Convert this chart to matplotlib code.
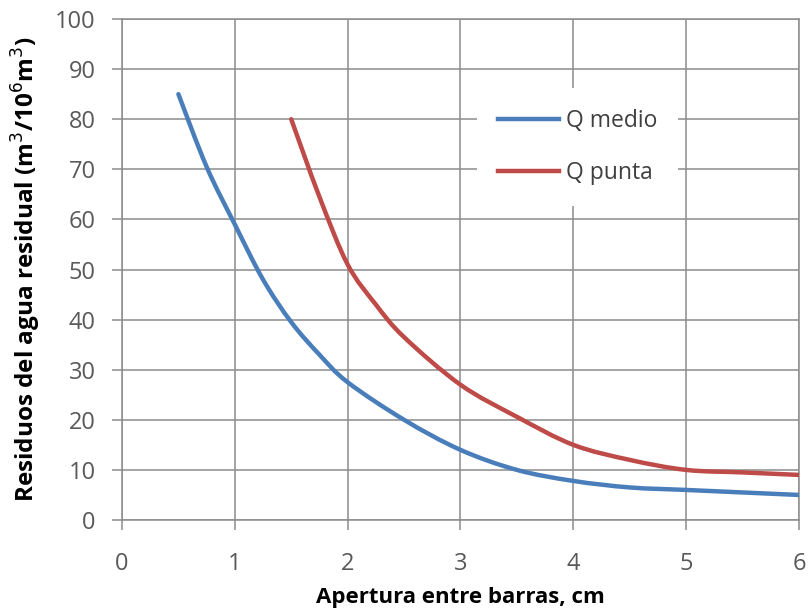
import numpy as np
import matplotlib
matplotlib.use("Agg")
import matplotlib.pyplot as plt
from matplotlib.path import Path
from matplotlib.patches import PathPatch
from matplotlib.lines import Line2D

# Data
x_medio = [0.5, 0.75, 1.0, 1.25, 1.5, 1.75, 2.0, 2.5, 3.0, 3.5, 4.0, 4.5, 5.0, 5.5, 6.0]
q_medio = [85, 70.5, 59, 48, 39.5, 33, 27.5, 20, 14, 10, 7.8, 6.5, 6, 5.5, 5]
x_punta = [1.5, 1.75, 2.0, 2.25, 2.5, 3.0, 3.5, 4.0, 4.5, 5.0, 5.5, 6.0]
q_punta = [80, 64.5, 51, 43, 36.5, 27, 20.6, 15, 12, 10, 9.5, 9]
x_ticks = [0, 1, 2, 3, 4, 5, 6]
y_ticks = [0, 10, 20, 30, 40, 50, 60, 70, 80, 90, 100]

BLUE = "#4A7EBB"
RED = "#BE4B48"
GRID = "#8c8c8c"
TXT = "#595959"

plt.rcParams['font.family'] = ['Open Sans', 'DejaVu Sans']

fig = plt.figure(figsize=(8.1, 6.13), dpi=100)
ax = fig.add_axes([0.1506, 0.1517, 0.8358, 0.8173])


def smooth_path(xs, ys):
    # Catmull-Rom style bezier (like spreadsheet smoothed lines)
    xs = np.asarray(xs, float); ys = np.asarray(ys, float)
    n = len(xs)
    verts = [(xs[0], ys[0])]
    codes = [Path.MOVETO]
    t = 1 / 6
    for i in range(n - 1):
        p0 = (xs[max(i - 1, 0)], ys[max(i - 1, 0)])
        p1 = (xs[i], ys[i])
        p2 = (xs[i + 1], ys[i + 1])
        p3 = (xs[min(i + 2, n - 1)], ys[min(i + 2, n - 1)])
        c1 = (p1[0] + (p2[0] - p0[0]) * t, p1[1] + (p2[1] - p0[1]) * t)
        c2 = (p2[0] - (p3[0] - p1[0]) * t, p2[1] - (p3[1] - p1[1]) * t)
        verts += [c1, c2, p2]
        codes += [Path.CURVE4] * 3
    return Path(verts, codes)


for xs, ys, c in [(x_medio, q_medio, BLUE), (x_punta, q_punta, RED)]:
    patch = PathPatch(smooth_path(xs, ys), facecolor='none', edgecolor=c,
                      linewidth=3.2, capstyle='round', zorder=3)
    ax.add_patch(patch)

ax.set_xlim(0, 6)
ax.set_ylim(0, 100)
ax.set_xticks(x_ticks)
ax.set_yticks(y_ticks)
ax.grid(True, color=GRID, linewidth=1.1)
ax.set_axisbelow(True)
for s in ax.spines.values():
    s.set_color(GRID)
    s.set_linewidth(1.1)
ax.tick_params(axis='both', direction='out', length=7, width=1.1, color=GRID,
               labelsize=17, labelcolor=TXT)
ax.tick_params(axis='y', pad=12)
ax.tick_params(axis='x', pad=16)

ax.set_xlabel("Apertura entre barras, cm", fontsize=16, fontweight='bold',
              color='black', labelpad=8)
ax.set_ylabel("Residuos del agua residual (m$^3$/10$^6$m$^3$)", fontsize=17.5,
              fontweight='bold', color='black')
ax.yaxis.set_label_coords(-0.116, 0.5)

handles = [Line2D([], [], color=BLUE, linewidth=3.2),
           Line2D([], [], color=RED, linewidth=3.2)]
leg = ax.legend(handles, ["Q medio", "Q punta"], loc='upper left',
                bbox_to_anchor=(0.525, 0.862), frameon=True, fontsize=16.5,
                handlelength=2.65, handletextpad=0.3, labelspacing=1.25,
                borderpad=0.9, borderaxespad=0)
leg.get_frame().set_facecolor('white')
leg.get_frame().set_edgecolor('none')
leg.get_frame().set_alpha(1)
leg.get_frame().set_boxstyle('square', pad=0)
for t in leg.get_texts():
    t.set_color('#404040')

fig.savefig("out.png", dpi=100, facecolor='white')
